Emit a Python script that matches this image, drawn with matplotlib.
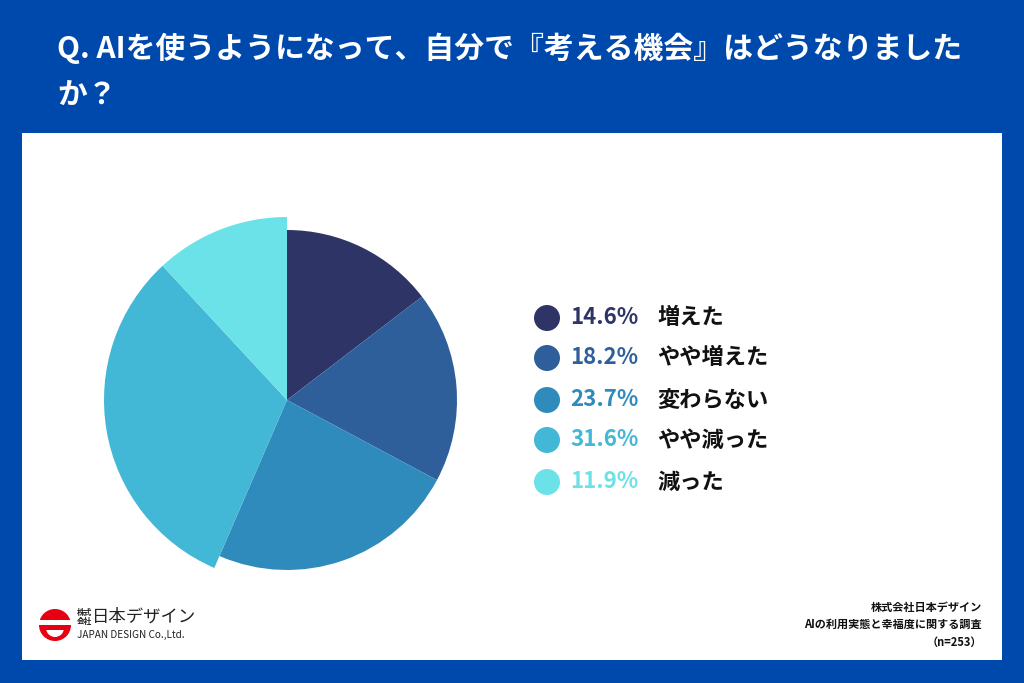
import matplotlib.pyplot as plt
from matplotlib.patches import Rectangle, Circle, Wedge

plt.rcParams['font.family'] = ['Noto Sans CJK JP', 'DejaVu Sans']

# データ
labels = ['増えた', 'やや増えた', '変わらない', 'やや減った', '減った']
shares = [14.6, 18.2, 23.7, 31.6, 11.9]
colors = ['#2E3466', '#2F5F9B', '#2E8BBB', '#42B8D6', '#6BE2E8']
title_lines = ['Q. AIを使うようになって、自分で『考える機会』はどうなりました', 'か？']
source_lines = ['株式会社日本デザイン', 'AIの利用実態と幸福度に関する調査', '（n=253）']

W, H = 1024, 683
fig = plt.figure(figsize=(W / 100, H / 100), dpi=100)
fig.patch.set_facecolor('#0049AC')

# 背景用の軸 (ピクセル座標)
bg = fig.add_axes([0, 0, 1, 1])
bg.set_xlim(0, W)
bg.set_ylim(H, 0)
bg.axis('off')
bg.add_patch(Rectangle((22, 133), 980, 527, facecolor='white', edgecolor='none'))

for i, line in enumerate(title_lines):
    bg.text(57, 48 + i * 47, line, color='white', fontsize=21.5, fontweight='bold',
            va='center', ha='left')

# 凡例
leg_y = [318, 358, 400, 440, 482]
for y, c, s, lab in zip(leg_y, colors, shares, labels):
    bg.add_patch(Circle((547, y), 13, facecolor=c, edgecolor='none'))
    bg.text(570, y, f'{s}%', color=c, fontsize=16, fontweight='bold',
            va='center', ha='left')
    bg.text(657, y, lab, color='#111111', fontsize=16, fontweight='bold',
            va='center', ha='left')

# 出典
for i, line in enumerate(source_lines):
    bg.text(982, 607 + i * 17.5, line, color='#111111', fontsize=8,
            fontweight='bold', va='center', ha='right')

# ロゴ
bg.add_patch(Circle((55, 625), 16, facecolor='#E60012', edgecolor='none'))
bg.add_patch(Rectangle((39, 620), 32, 5, facecolor='white', edgecolor='none'))
bg.add_patch(Wedge((55, 628), 9, 0, 180, facecolor='white', edgecolor='none'))
bg.add_patch(Rectangle((45, 628), 20, 2, facecolor='#E60012', edgecolor='none'))
bg.text(77, 617, '株式\n会社', fontsize=5.5, va='center', ha='left',
        color='#222222', linespacing=1.0, fontweight='bold')
bg.text(92, 617, '日本デザイン', fontsize=12.5, va='center', ha='left', color='#222222')
bg.text(77, 635, 'JAPAN DESIGN Co.,Ltd.', fontsize=7.2, va='center', ha='left',
        color='#222222')

# 円グラフ
cx, cy, half = 287, 400, 200
ax = fig.add_axes([(cx - half) / W, 1 - (cy + half) / H, 2 * half / W, 2 * half / H])
wedges, _ = ax.pie(shares, colors=colors, startangle=90, counterclock=False,
                   radius=170, wedgeprops=dict(linewidth=0))
for w in wedges[3:]:
    w.set_radius(183)
ax.set_xlim(-half, half)
ax.set_ylim(-half, half)
ax.set_aspect('equal')
ax.axis('off')

fig.savefig('out.png', dpi=100, facecolor=fig.get_facecolor())
